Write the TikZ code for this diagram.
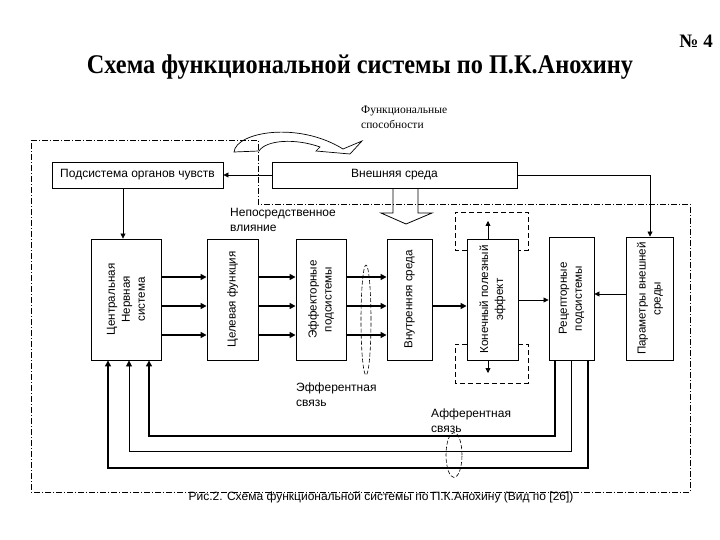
\documentclass[tikz,border=0pt]{standalone}
\usepackage{fontspec}
\setmainfont{Liberation Serif}
\newfontfamily\arial{Liberation Sans}
\usetikzlibrary{arrows.meta,calc,shapes.geometric}
\begin{document}
\begin{tikzpicture}[x=1pt,y=-1pt,
  box/.style={draw,line width=0.9pt,inner sep=0pt},
  rot/.style={rotate=90,align=center,inner sep=0pt,font=\arial\fontsize{11.6}{15}\selectfont},
  boxtext/.style={inner sep=0pt,font=\arial\fontsize{12}{13}\selectfont},
  lbl/.style={font=\arial\fontsize{12}{15}\selectfont,align=left,anchor=north west,inner sep=0pt},
  thinarr/.style={line width=0.8pt,-{Triangle[length=5pt,width=5pt]}},
  thickarr/.style={line width=2pt,-{Triangle[length=6pt,width=6pt]}},
  fbthick/.style={line width=1.4pt,-{Triangle[length=6pt,width=6pt]}},
  fbthin/.style={line width=0.8pt,-{Triangle[length=6pt,width=6pt]}},
  dashdot/.style={line width=0.7pt,dash pattern=on 6pt off 2pt on 1pt off 2pt},
  dashbox/.style={line width=0.8pt,dash pattern=on 5pt off 3pt},
  dashell/.style={draw,ellipse,line width=0.6pt,dash pattern=on 4pt off 2pt,inner sep=0pt},
]
\useasboundingbox (0,0) rectangle (720,540);
\fill[white] (0,0) rectangle (720,540);

% headings
\node[font=\bfseries\fontsize{19}{21}\selectfont,anchor=east,inner sep=0pt] (num) at (713,41) {№ 4};
\node[font=\bfseries\fontsize{27}{30}\selectfont,xscale=0.9,inner sep=0pt] (title) at (360,67) {Схема функциональной системы по П.К.Анохину};

% outer dash-dot contour
\draw[dashdot] (31,140) -- (258,140) -- (258,204) -- (690,204) -- (690,492) -- (31,492) -- cycle;

% functional abilities
\node[font=\fontsize{11.5}{15}\selectfont,align=left,anchor=north west,inner sep=0pt] (fs) at (361,106) {Функциональные\\способности};
\draw[line width=0.7pt] (234,152) .. controls (236,132) and (298,121) .. (343,149) -- (362,141) -- (350,154) -- (316,151) -- (320,147)
  .. controls (295,138) and (266,140) .. (259,151) -- cycle;

% top boxes
\node[box,minimum width=171,minimum height=26] (sub) at (137.5,175) {};
\node[boxtext] (subt) at (sub) {Подсистема органов чувств};
\node[box,minimum width=245,minimum height=26] (ext) at (394.5,175) {};
\node[boxtext] (extt) at (ext) {Внешняя среда};

% main row boxes
\node[box,minimum width=70,minimum height=121] (cns) at (126,299.5) {};
\node[rot] (cnst) at (cns) {Центральная\\Нервная\\система};
\node[box,minimum width=51,minimum height=121] (goal) at (232.5,299.5) {};
\node[rot] (goalt) at (goal) {Целевая функция};
\node[box,minimum width=50,minimum height=121] (eff) at (321,299.5) {};
\node[rot] (efft) at (eff) {Эффекторные\\подсистемы};
\node[box,minimum width=45,minimum height=121] (inn) at (409.5,299.5) {};
\node[rot] (innt) at (inn) {Внутренняя среда};
\node[box,minimum width=51,minimum height=121] (fin) at (492.5,299.5) {};
\node[rot] (fint) at (fin) {Конечный полезный\\эффект};
\node[box,minimum width=45,minimum height=123] (rec) at (571.5,298.5) {};
\node[rot] (rect) at (rec) {Рецепторные\\подсистемы};
\node[box,minimum width=47,minimum height=123] (par) at (650,298.5) {};
\node[rot] (part) at (par) {Параметры внешней\\среды};

% helper coordinates
\coordinate (r1) at (0,277);
\coordinate (r2) at (0,306);
\coordinate (r3) at (0,335);
\coordinate (r4) at (0,300);
\coordinate (r5) at (0,294);
\coordinate (c1) at (123,0);

% top connectors
\draw[thinarr] (ext.west) -- (sub.east);
\draw[thinarr] (ext.east) -| (par.north);
\draw[thinarr] (sub.south -| c1) -- (cns.north -| c1);

% direct influence block arrow
\draw[line width=0.8pt] ($(ext.south)+(-1.5,0)$) -- (393,213) -- (381,213) -- (406,224) -- (432,213) -- (418,213) -- ($(ext.south)+(23.5,0)$);

% thick forward arrows
\foreach \r in {r1,r2,r3}{
  \draw[thickarr] (cns.east |- \r) -- (goal.west |- \r);
  \draw[thickarr] (goal.east |- \r) -- (eff.west |- \r);
  \draw[thickarr] (eff.east |- \r) -- (inn.west |- \r);
}
\draw[thickarr] (inn.east |- r2) -- (fin.west |- r2);
\draw[thinarr] (fin.east |- r4) -- (rec.west |- r4);
\draw[thinarr] (par.west |- r5) -- (rec.east |- r5);

% final effect arrows and dashed frames
\coordinate (finup) at (488,221);
\coordinate (findn) at (488,373);
\draw[thinarr] (fin.north -| finup) -- (finup);
\draw[thinarr] (fin.south -| findn) -- (findn);
\coordinate (u1) at (0,250);
\coordinate (u2) at (0,344);
\draw[dashbox] (fin.west |- u1) -- (455,250) -- (455,212) -- (528,212) -- (528,250) -- (fin.east |- u1);
\draw[dashbox] (fin.west |- u2) -- (455,344) -- (455,383) -- (528,383) -- (528,344) -- (fin.east |- u2);

% feedback lines
\coordinate (f1) at (555,436); \coordinate (g1) at (149,436);
\coordinate (f2) at (571,451); \coordinate (g2) at (129,451);
\coordinate (f3) at (588,468); \coordinate (g3) at (108,468);
\draw[fbthick] (rec.south -| f1) -- (f1) -- (g1) -- (cns.south -| g1);
\draw[fbthin] (rec.south -| f2) -- (f2) -- (g2) -- (cns.south -| g2);
\draw[fbthick] (rec.south -| f3) -- (f3) -- (g3) -- (cns.south -| g3);

% dashed ellipses
\node[dashell,minimum width=10,minimum height=110] (effell) at (366,320) {};
\node[dashell,minimum width=16,minimum height=45] (affell) at (454,455) {};

% labels
\node[lbl] (direct) at (230,208) {Непосредственное\\влияние};
\node[lbl] (efflbl) at (296,383) {Эфферентная\\связь};
\node[lbl] (afflbl) at (431,409) {Афферентная\\связь};

% caption
\node[font=\arial\fontsize{12}{13}\selectfont,inner sep=0pt] (cap) at (381,497) {Рис.2. Схема функциональной системы по П.К.Анохину (Вид по [26])};
\end{tikzpicture}
\end{document}
